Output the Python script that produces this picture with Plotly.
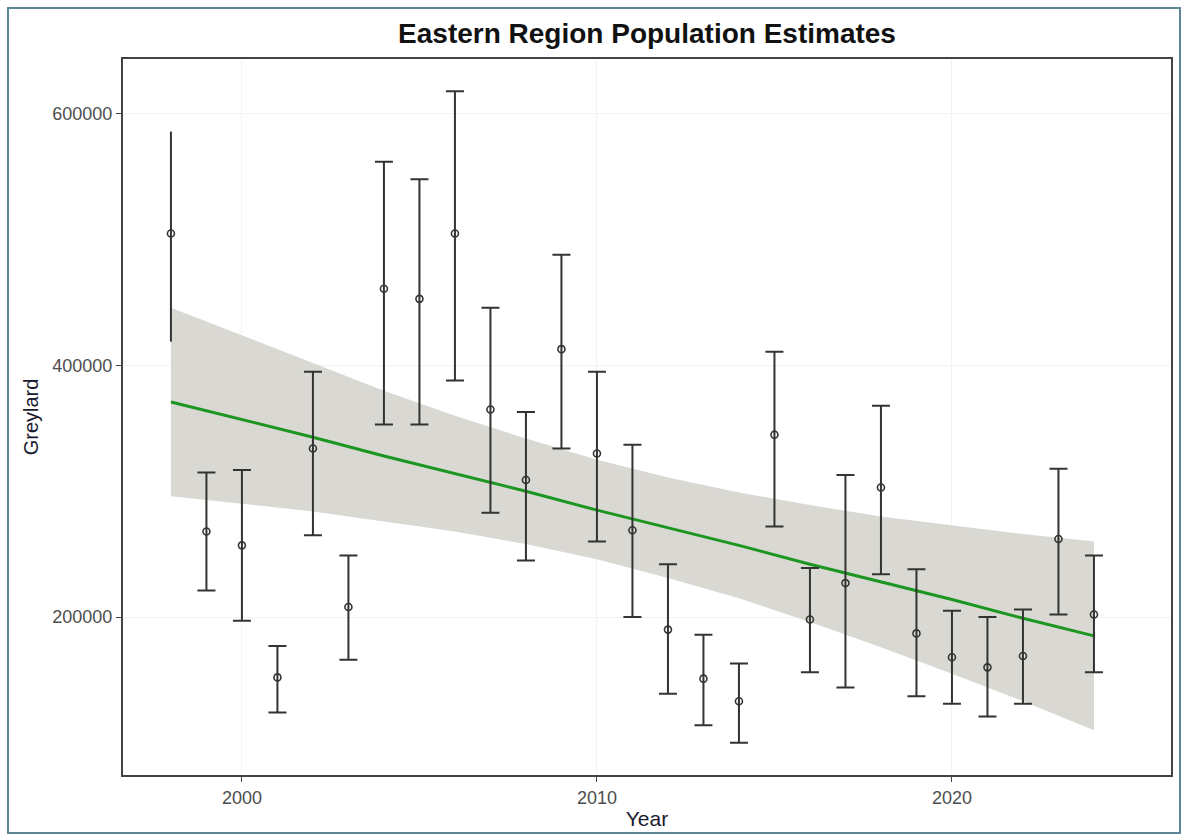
import plotly.graph_objects as go

# Annual population estimates with their interval bounds
years = list(range(1998, 2025))
estimate = [505000, 268000, 257000, 152000, 334000, 208000, 461000, 453000, 505000,
            365000, 309000, 413000, 330000, 269000, 190000, 151000, 133000, 345000,
            198000, 227000, 303000, 187000, 168000, 160000, 169000, 262000, 202000]
upper = [586000, 315000, 317000, 177000, 395000, 249000, 562000, 548000, 618000,
         446000, 363000, 488000, 395000, 337000, 242000, 186000, 163000, 411000,
         239000, 313000, 368000, 238000, 205000, 200000, 206000, 318000, 249000]
lower = [419000, 221000, 197000, 124000, 265000, 166000, 353000, 353000, 388000,
         283000, 245000, 334000, 260000, 200000, 139000, 114000, 100000, 272000,
         156000, 144000, 234000, 137000, 131000, 121000, 131000, 202000, 156000]

# Linear trend and its confidence band
trend_years = [1998, 2000, 2002, 2004, 2006, 2008, 2010, 2012, 2014, 2016, 2018, 2020, 2022, 2024]
trend = [371000, 357000, 343000, 328000, 314000, 300000, 285000,
         271000, 257000, 242000, 228000, 214000, 199000, 185000]
band_hi = [446000, 424000, 402000, 380000, 360000, 342000, 325000,
           311000, 299000, 289000, 280000, 273000, 266000, 260000]
band_lo = [296000, 290000, 284000, 276000, 268000, 258000, 246000,
           231000, 215000, 196000, 176000, 155000, 133000, 110000]

x_ticks = [2000, 2010, 2020]
y_ticks = [200000, 400000, 600000]

ink = "#333333"

fig = go.Figure()

# confidence band
fig.add_trace(go.Scatter(
    x=trend_years + trend_years[::-1],
    y=band_hi + band_lo[::-1],
    fill="toself", fillcolor="rgb(217,216,211)",
    line=dict(width=0), mode="lines", hoverinfo="skip", showlegend=False,
))

# trend line
fig.add_trace(go.Scatter(
    x=trend_years, y=trend, mode="lines",
    line=dict(color="rgb(28,150,32)", width=3), showlegend=False,
))

def err_trace(idx, cap):
    xs = [years[i] for i in idx]
    ys = [estimate[i] for i in idx]
    up = [upper[i] - estimate[i] for i in idx]
    dn = [estimate[i] - lower[i] for i in idx]
    return go.Scatter(
        x=xs, y=ys, mode="markers",
        marker=dict(symbol="circle-open", size=7, color=ink, line=dict(width=1.6, color=ink)),
        error_y=dict(type="data", symmetric=False, array=up, arrayminus=dn,
                     color=ink, thickness=2, width=cap),
        showlegend=False,
    )

# first year is drawn without end caps
fig.add_trace(err_trace([0], 0))
fig.add_trace(err_trace(list(range(1, len(years))), 9))

fig.update_layout(
    width=1184, height=840,
    margin=dict(l=123, r=13, t=59, b=65),
    paper_bgcolor="white", plot_bgcolor="white",
    font=dict(family="Liberation Sans, Arial, sans-serif", color="#222"),
    title=dict(text="<b>Eastern Region Population Estimates</b>",
               font=dict(size=28, color="#111"),
               x=0.5, xref="paper", xanchor="center",
               y=1 - 33 / 840, yref="container", yanchor="middle"),
    showlegend=False,
)

fig.update_xaxes(
    range=[1996.65, 2026.17], tickvals=x_ticks, tickformat="d",
    showgrid=True, gridcolor="#f3f3f3", zeroline=False,
    showline=True, linecolor="#444", linewidth=2, mirror=True,
    ticks="outside", ticklen=5, tickcolor="#444", tickwidth=1,
    tickfont=dict(size=18, color="#4d4d4d"),
    title=dict(text="Year", font=dict(size=21, color="#1a1a2e"), standoff=5),
)
fig.update_yaxes(
    range=[74400, 643700], tickvals=y_ticks, tickformat="d",
    showgrid=True, gridcolor="#f3f3f3", zeroline=False,
    showline=True, linecolor="#444", linewidth=2, mirror=True,
    ticks="outside", ticklen=5, tickcolor="#444", tickwidth=1,
    tickfont=dict(size=18, color="#4d4d4d"),
    title=dict(text="Greylard", font=dict(size=20, color="#1a1a2e"), standoff=8),
)

# thin frame around the whole graphic
fig.add_shape(type="rect", xref="paper", yref="paper",
              x0=(8 - 123) / 1048, x1=(1180 - 123) / 1048,
              y0=(775 - 833) / 716, y1=(775 - 8) / 716,
              line=dict(color="#5d8699", width=2), fillcolor="rgba(0,0,0,0)", layer="below")

fig.write_html("out.html")
